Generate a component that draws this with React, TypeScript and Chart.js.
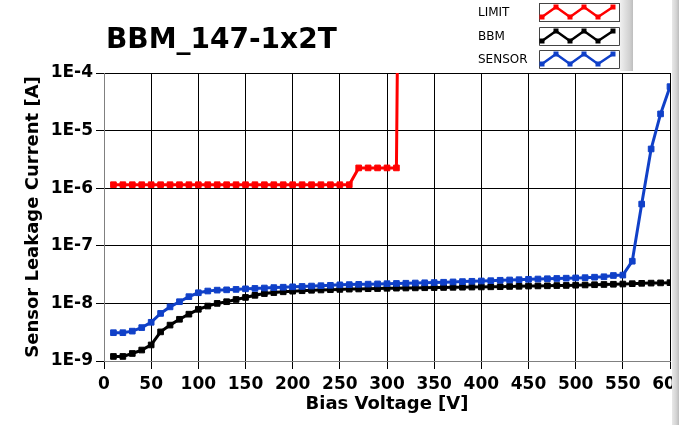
import React, { useEffect, useRef } from "react";
import { Chart, registerables } from "chart.js";

Chart.register(...registerables);

const chartTitle = "BBM_147-1x2T";
const xAxisTitle = "Bias Voltage [V]";
const yAxisTitle = "Sensor Leakage Current [A]";

const voltages = [
  10, 20, 30, 40, 50, 60, 70, 80, 90, 100,
  110, 120, 130, 140, 150, 160, 170, 180, 190, 200,
  210, 220, 230, 240, 250, 260, 270, 280, 290, 300,
  310, 320, 330, 340, 350, 360, 370, 380, 390, 400,
  410, 420, 430, 440, 450, 460, 470, 480, 490, 500,
  510, 520, 530, 540, 550, 560, 570, 580, 590, 600,
];

const bbmCurrent = [
  1.2e-9, 1.2e-9, 1.35e-9, 1.55e-9, 1.9e-9, 3.2e-9, 4.2e-9, 5.3e-9, 6.5e-9, 7.9e-9,
  9.0e-9, 1.0e-8, 1.07e-8, 1.17e-8, 1.27e-8, 1.38e-8, 1.48e-8, 1.54e-8, 1.59e-8, 1.63e-8,
  1.66e-8, 1.69e-8, 1.71e-8, 1.73e-8, 1.75e-8, 1.77e-8, 1.78e-8, 1.8e-8, 1.81e-8, 1.83e-8,
  1.84e-8, 1.85e-8, 1.86e-8, 1.87e-8, 1.88e-8, 1.89e-8, 1.9e-8, 1.91e-8, 1.92e-8, 1.93e-8,
  1.94e-8, 1.95e-8, 1.97e-8, 1.98e-8, 2.0e-8, 2.01e-8, 2.02e-8, 2.04e-8, 2.05e-8, 2.07e-8,
  2.09e-8, 2.11e-8, 2.13e-8, 2.15e-8, 2.17e-8, 2.2e-8, 2.23e-8, 2.25e-8, 2.27e-8, 2.29e-8,
];

const sensorCurrent = [
  3.1e-9, 3.1e-9, 3.3e-9, 3.8e-9, 4.7e-9, 6.7e-9, 8.7e-9, 1.07e-8, 1.31e-8, 1.53e-8,
  1.64e-8, 1.7e-8, 1.72e-8, 1.75e-8, 1.79e-8, 1.82e-8, 1.85e-8, 1.88e-8, 1.91e-8, 1.94e-8,
  1.97e-8, 2.0e-8, 2.03e-8, 2.06e-8, 2.1e-8, 2.12e-8, 2.14e-8, 2.16e-8, 2.18e-8, 2.2e-8,
  2.22e-8, 2.24e-8, 2.26e-8, 2.28e-8, 2.3e-8, 2.33e-8, 2.36e-8, 2.39e-8, 2.42e-8, 2.45e-8,
  2.48e-8, 2.52e-8, 2.55e-8, 2.58e-8, 2.62e-8, 2.65e-8, 2.68e-8, 2.71e-8, 2.74e-8, 2.77e-8,
  2.8e-8, 2.85e-8, 2.9e-8, 3.05e-8, 3.1e-8, 5.4e-8, 5.3e-7, 4.8e-6, 1.95e-5, 5.8e-5,
];

const limitVoltage = [
  10, 20, 30, 40, 50, 60, 70, 80, 90, 100,
  110, 120, 130, 140, 150, 160, 170, 180, 190, 200,
  210, 220, 230, 240, 250, 260, 270, 280, 290, 300,
  310, 312,
];

const limitCurrent = [
  1.15e-6, 1.15e-6, 1.15e-6, 1.15e-6, 1.15e-6, 1.15e-6, 1.15e-6, 1.15e-6, 1.15e-6, 1.15e-6,
  1.15e-6, 1.15e-6, 1.15e-6, 1.15e-6, 1.15e-6, 1.15e-6, 1.15e-6, 1.15e-6, 1.15e-6, 1.15e-6,
  1.15e-6, 1.15e-6, 1.15e-6, 1.15e-6, 1.15e-6, 1.15e-6, 2.25e-6, 2.25e-6, 2.25e-6, 2.25e-6,
  2.25e-6, 1e-2,
];

const yTickValues = [1e-9, 1e-8, 1e-7, 1e-6, 1e-5, 1e-4];
const yTickLabels = ["1E-9", "1E-8", "1E-7", "1E-6", "1E-5", "1E-4"];

const seriesNames = ["LIMIT", "BBM", "SENSOR"];
const seriesColors = ["#ff0000", "#000000", "#1040c8"];

const FONT = "'DejaVu Sans', Verdana, sans-serif";

function toPoints(xs: number[], ys: number[]) {
  return xs.map((x, i) => ({ x, y: ys[i] }));
}

const decorPlugin = {
  id: "decor",
  afterDraw(chart: any) {
    const ctx = chart.ctx as CanvasRenderingContext2D;
    const W = chart.width;
    const H = chart.height;
    ctx.save();

    // Title
    ctx.fillStyle = "#000";
    ctx.font = `bold 28px ${FONT}`;
    ctx.textAlign = "left";
    ctx.textBaseline = "alphabetic";
    ctx.fillText(chartTitle, 106, 48);

    // Legend
    const rowTops = [3, 27, 50];
    for (let i = 0; i < seriesNames.length; i++) {
      const top = rowTops[i];
      ctx.fillStyle = "#000";
      ctx.font = `12px ${FONT}`;
      ctx.textAlign = "left";
      ctx.textBaseline = "middle";
      ctx.fillText(seriesNames[i], 478, top + 9.5);
      // swatch box
      ctx.fillStyle = "#ffffff";
      ctx.fillRect(539, top, 80, 19);
      ctx.strokeStyle = "#444";
      ctx.lineWidth = 1;
      ctx.strokeRect(539.5, top + 0.5, 80, 18);
      // zigzag
      const xs = [542, 556, 570, 584, 598, 613];
      const low = top + 14;
      const high = top + 4;
      ctx.strokeStyle = seriesColors[i];
      ctx.fillStyle = seriesColors[i];
      ctx.lineWidth = 2.5;
      ctx.lineJoin = "round";
      ctx.beginPath();
      xs.forEach((x, k) => {
        const y = k % 2 === 0 ? low : high;
        if (k === 0) ctx.moveTo(x, y);
        else ctx.lineTo(x, y);
      });
      ctx.stroke();
      xs.forEach((x, k) => {
        const y = k % 2 === 0 ? low : high;
        ctx.fillRect(x - 2.5, y - 2.5, 5, 5);
      });
    }
    // legend scroll strip
    const g1 = ctx.createLinearGradient(620, 0, 634, 0);
    g1.addColorStop(0, "#f0f0f0");
    g1.addColorStop(0.7, "#d0d0d0");
    g1.addColorStop(1, "#b8b8b8");
    ctx.fillStyle = g1;
    ctx.fillRect(620, 0, 13, 71);

    // right strip
    const g2 = ctx.createLinearGradient(672, 0, W, 0);
    g2.addColorStop(0, "#e8e8e8");
    g2.addColorStop(0.6, "#d4d4d4");
    g2.addColorStop(1, "#bcbcbc");
    ctx.fillStyle = g2;
    ctx.fillRect(672, 0, W - 672, H);

    ctx.restore();
  },
};

export default function App() {
  const canvasRef = useRef<HTMLCanvasElement | null>(null);

  useEffect(() => {
    document.body.style.margin = "0";
    const canvas = canvasRef.current;
    if (!canvas) return;

    const mkDataset = (i: number, xs: number[], ys: number[]) => ({
      label: seriesNames[i],
      data: toPoints(xs, ys),
      borderColor: seriesColors[i],
      backgroundColor: seriesColors[i],
      pointBackgroundColor: seriesColors[i],
      pointBorderColor: seriesColors[i],
      borderWidth: 3,
      pointStyle: "rect",
      pointRadius: 4,
      pointBorderWidth: 1,
      tension: 0,
      fill: false,
    });

    const chart = new Chart(canvas, {
      type: "line",
      data: {
        datasets: [
          mkDataset(2, voltages, sensorCurrent),
          mkDataset(1, voltages, bbmCurrent),
          mkDataset(0, limitVoltage, limitCurrent),
        ],
      },
      options: {
        animation: false,
        responsive: false,
        devicePixelRatio: 1,
        layout: { padding: { top: 73, right: 9, left: 0, bottom: 0 } },
        plugins: {
          legend: { display: false },
          tooltip: { enabled: false },
          title: { display: false },
        },
        scales: {
          x: {
            type: "linear",
            min: 0,
            max: 600,
            ticks: {
              stepSize: 50,
              autoSkip: false,
              maxRotation: 0,
              color: "#000",
              padding: 5,
              font: { family: FONT, size: 17, weight: "bold" },
            },
            grid: { color: "#000", lineWidth: 1, tickLength: 8, drawTicks: true },
            border: { color: "#808080", width: 1 },
            title: {
              display: true,
              text: xAxisTitle,
              color: "#000",
              font: { family: FONT, size: 18, weight: "bold" },
              padding: { top: 0, bottom: 10 },
            },
            afterFit: (s: any) => {
              s.height = 64;
              s.paddingLeft = 0;
              s.paddingRight = 0;
            },
          },
          y: {
            type: "logarithmic",
            min: 1e-9,
            max: 1e-4,
            afterBuildTicks: (s: any) => {
              s.ticks = yTickValues.map((v) => ({ value: v }));
            },
            ticks: {
              autoSkip: false,
              color: "#000",
              padding: 3,
              font: { family: FONT, size: 17, weight: "bold" },
              callback: (value: any) => {
                const v = Number(value);
                const i = yTickValues.findIndex(
                  (t) => Math.abs(Math.log10(t) - Math.log10(v)) < 1e-6
                );
                return i >= 0 ? yTickLabels[i] : "";
              },
            },
            grid: { color: "#000", lineWidth: 1, tickLength: 8, drawTicks: true },
            border: { color: "#808080", width: 1 },
            title: {
              display: true,
              text: yAxisTitle,
              color: "#000",
              font: { family: FONT, size: 18, weight: "bold" },
              padding: { top: 23, bottom: 0 },
            },
            afterFit: (s: any) => {
              s.width = 104;
              s.paddingTop = 0;
              s.paddingBottom = 0;
            },
          },
        },
      } as any,
      plugins: [decorPlugin],
    });

    return () => {
      chart.destroy();
    };
  }, []);

  return (
    <div style={{ position: "absolute", left: 0, top: 0, width: 679, height: 425, background: "#fff" }}>
      <canvas ref={canvasRef} width={679} height={425} style={{ display: "block" }} />
    </div>
  );
}
